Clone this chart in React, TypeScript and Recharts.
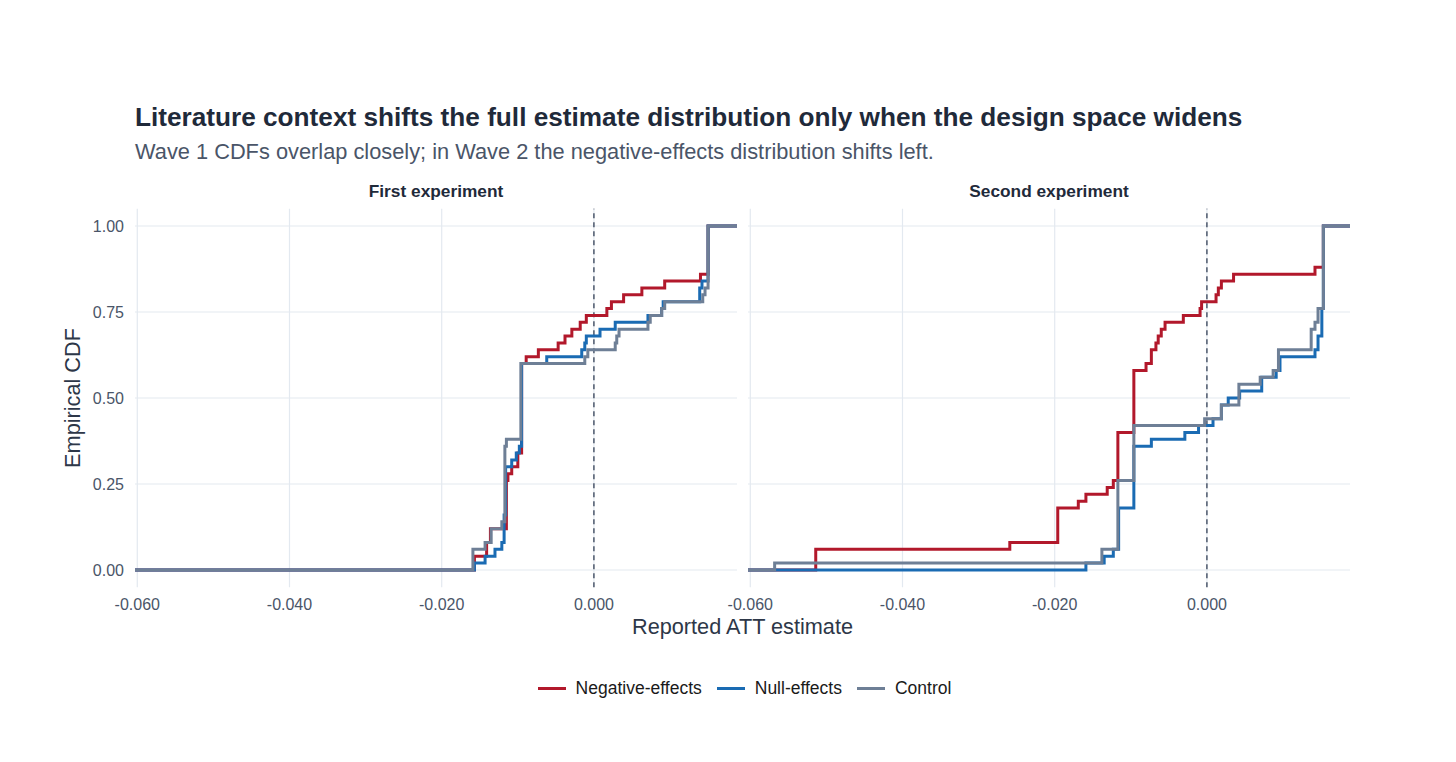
import { Line, LineChart, ReferenceLine, XAxis, YAxis } from 'recharts';

// panel x range (ggplot pads the ecdf out to the panel edges)
const X_MIN = -0.0603;
const X_MAX = 0.0188;
const X_TICKS = [-0.06, -0.04, -0.02, 0];
const Y_TICKS = [0, 0.25, 0.5, 0.75, 1];

// First experiment
const firstNegX = [-0.0157, -0.0141, -0.0136, -0.0115, -0.0113, -0.0108, -0.01, -0.0095, -0.0089, -0.0073, -0.0047, -0.0038, -0.0029, -0.0018, -0.001, 0.0017, 0.0023, 0.0039, 0.0063, 0.0093, 0.014, 0.015];
const firstNegY = [0.04, 0.08, 0.12, 0.26, 0.28, 0.3, 0.34, 0.6, 0.62, 0.64, 0.66, 0.68, 0.7, 0.72, 0.74, 0.76, 0.78, 0.8, 0.82, 0.84, 0.86, 1];
const firstNullX = [-0.0157, -0.0143, -0.013, -0.0121, -0.0118, -0.0116, -0.0108, -0.0102, -0.0098, -0.0095, -0.0062, -0.0016, -0.0012, -0.001, 0.0008, 0.0028, 0.0071, 0.0089, 0.0091, 0.0139, 0.0142, 0.015];
const firstNullY = [0.02, 0.04, 0.06, 0.08, 0.16, 0.3, 0.32, 0.34, 0.36, 0.6, 0.62, 0.64, 0.66, 0.68, 0.7, 0.72, 0.74, 0.76, 0.78, 0.82, 0.84, 1];
const firstCtrlX = [-0.0159, -0.0143, -0.0135, -0.0121, -0.0117, -0.0115, -0.0096, -0.0012, -0.0008, 0.0028, 0.003, 0.0033, 0.0071, 0.0074, 0.0089, 0.0093, 0.0143, 0.0146, 0.015];
const firstCtrlY = [0.06, 0.08, 0.12, 0.14, 0.36, 0.38, 0.6, 0.62, 0.64, 0.66, 0.68, 0.7, 0.72, 0.74, 0.76, 0.78, 0.8, 0.82, 1];

// Second experiment
const secondNegX = [-0.0514, -0.0259, -0.0196, -0.0169, -0.0159, -0.0131, -0.0123, -0.0117, -0.0096, -0.008, -0.0073, -0.0067, -0.0064, -0.006, -0.0055, -0.0031, -0.0009, -0.0007, 0.0012, 0.0015, 0.0019, 0.0035, 0.0142, 0.0153];
const secondNegY = [0.06, 0.08, 0.18, 0.2, 0.22, 0.24, 0.26, 0.4, 0.58, 0.6, 0.64, 0.66, 0.68, 0.7, 0.72, 0.74, 0.76, 0.78, 0.8, 0.82, 0.84, 0.86, 0.88, 1];
const secondNullX = [-0.0159, -0.0135, -0.0123, -0.0116, -0.0096, -0.0073, -0.0029, -0.0011, 0.0008, 0.0019, 0.0028, 0.0043, 0.0072, 0.0091, 0.0096, 0.0142, 0.0146, 0.0151, 0.0153];
const secondNullY = [0.02, 0.04, 0.06, 0.18, 0.36, 0.38, 0.4, 0.42, 0.44, 0.48, 0.5, 0.52, 0.56, 0.58, 0.62, 0.64, 0.68, 0.76, 1];
const secondCtrlX = [-0.0568, -0.0138, -0.0117, -0.0096, -0.0003, 0.0019, 0.0042, 0.007, 0.0087, 0.0094, 0.0137, 0.0142, 0.0146, 0.0153];
const secondCtrlY = [0.02, 0.06, 0.26, 0.42, 0.44, 0.48, 0.54, 0.56, 0.58, 0.64, 0.7, 0.72, 0.76, 1];

const SERIES = [
  { key: 'neg', name: 'Negative-effects', color: '#b2182b' },
  { key: 'null', name: 'Null-effects', color: '#1a6bb3' },
  { key: 'ctrl', name: 'Control', color: '#6e7f96' }
];

const FONT = '"Liberation Sans", Arial, Helvetica, sans-serif';
const GRID = '#e3e9f0';
const TICK = { fontSize: 16, fill: '#4a5568', fontFamily: FONT };

function ecdf(xs: number[], ys: number[]) {
  return [{ x: X_MIN, y: 0 }, ...xs.map((x, i) => ({ x, y: ys[i] })), { x: X_MAX, y: 1 }];
}

const PANELS = [
  {
    title: 'First experiment',
    lines: [ecdf(firstNegX, firstNegY), ecdf(firstNullX, firstNullY), ecdf(firstCtrlX, firstCtrlY)]
  },
  {
    title: 'Second experiment',
    lines: [ecdf(secondNegX, secondNegY), ecdf(secondNullX, secondNullY), ecdf(secondCtrlX, secondCtrlY)]
  }
];

function Panel({ lines, showY }: { lines: { x: number; y: number }[][]; showY: boolean }) {
  return (
    <LineChart
      width={showY ? 745 : 660}
      height={620}
      margin={{ top: 208.8, right: showY ? 8 : 10, bottom: 2.8, left: showY ? 75 : 48 }}
    >
      <XAxis
        type='number'
        dataKey='x'
        domain={[X_MIN, X_MAX]}
        ticks={X_TICKS}
        interval={0}
        allowDataOverflow
        tickFormatter={(v: number) => v.toFixed(3)}
        tick={TICK}
        tickLine={false}
        axisLine={false}
        tickSize={0}
        tickMargin={11}
        height={30}
      />
      <YAxis
        type='number'
        dataKey='y'
        domain={[-0.05, 1.05]}
        ticks={Y_TICKS}
        interval={0}
        allowDataOverflow
        tickFormatter={(v: number) => v.toFixed(2)}
        tick={TICK}
        tickLine={false}
        axisLine={false}
        tickSize={0}
        tickMargin={11}
        width={60}
        hide={!showY}
      />
      {X_TICKS.map((t) => (
        <ReferenceLine key={`gx${t}`} x={t} stroke={GRID} strokeWidth={1.2} />
      ))}
      {Y_TICKS.map((t) => (
        <ReferenceLine key={`gy${t}`} y={t} stroke={GRID} strokeWidth={1.2} />
      ))}
      <ReferenceLine x={0} stroke='#26324a' strokeDasharray='5 4' strokeWidth={1.2} />
      {SERIES.map((s, i) => (
        <Line
          key={s.key}
          data={lines[i]}
          dataKey='y'
          name={s.name}
          type='stepAfter'
          stroke={s.color}
          strokeWidth={3}
          dot={false}
          activeDot={false}
          isAnimationActive={false}
        />
      ))}
    </LineChart>
  );
}

export default function App() {
  return (
    <div style={{ position: 'relative', width: 1456, height: 762, background: '#fff', fontFamily: FONT, overflow: 'hidden' }}>
      <style>{'body{margin:0}'}</style>
      <div style={{ position: 'absolute', left: 135, top: 103, fontSize: 26.2, lineHeight: '28px', fontWeight: 700, color: '#1f2a3a', whiteSpace: 'nowrap' }}>
        Literature context shifts the full estimate distribution only when the design space widens
      </div>
      <div style={{ position: 'absolute', left: 135, top: 140, fontSize: 21.8, lineHeight: '24px', color: '#4a5568', whiteSpace: 'nowrap' }}>
        Wave 1 CDFs overlap closely; in Wave 2 the negative-effects distribution shifts left.
      </div>
      <div style={{ position: 'absolute', left: 0, top: 0 }}>
        <Panel lines={PANELS[0].lines} showY />
      </div>
      <div style={{ position: 'absolute', left: 700, top: 0 }}>
        <Panel lines={PANELS[1].lines} showY={false} />
      </div>
      {PANELS.map((p, i) => (
        <div
          key={p.title}
          style={{ position: 'absolute', left: i === 0 ? 135 : 748, width: 602, top: 181, textAlign: 'center', fontSize: 17.3, lineHeight: '20px', fontWeight: 700, color: '#1f2a3a' }}
        >
          {p.title}
        </div>
      ))}
      <div style={{ position: 'absolute', left: 135, width: 1215, top: 614, textAlign: 'center', fontSize: 21.7, lineHeight: '26px', color: '#2d3748' }}>
        Reported ATT estimate
      </div>
      <div
        style={{ position: 'absolute', left: 73, top: 398, transform: 'translate(-50%, -50%) rotate(-90deg)', fontSize: 21.7, lineHeight: '26px', color: '#2d3748', whiteSpace: 'nowrap' }}
      >
        Empirical CDF
      </div>
      <div style={{ position: 'absolute', left: 0, width: 1456, top: 676, display: 'flex', justifyContent: 'center', paddingLeft: 48, boxSizing: 'border-box' }}>
        {SERIES.map((s) => (
          <div key={s.key} style={{ display: 'flex', alignItems: 'center', marginRight: 15 }}>
            <span style={{ display: 'inline-block', width: 28, height: 3, background: s.color, marginRight: 10 }} />
            <span style={{ fontSize: 17.5, lineHeight: '24px', color: '#1a1a1a' }}>{s.name}</span>
          </div>
        ))}
      </div>
    </div>
  );
}
